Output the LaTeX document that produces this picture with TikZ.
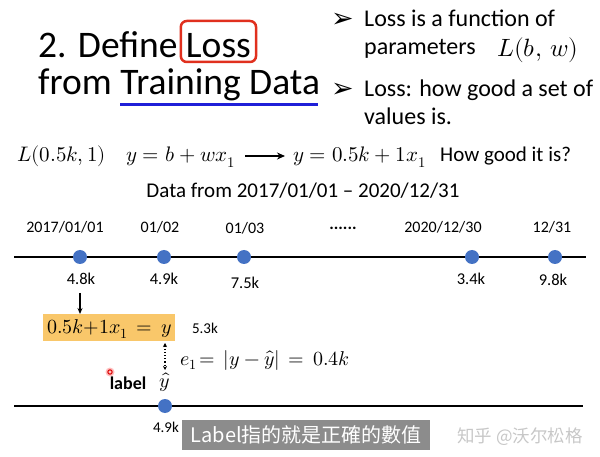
\documentclass[tikz,border=0pt]{standalone}
\usepackage{amsmath}
\usepackage{fontspec}
\usepackage{unicode-math}
\setmainfont{Carlito}
\setmathfont{Latin Modern Math}
\newfontfamily\dejavu{DejaVu Sans}
\newfontfamily\cjk{Noto Sans CJK TC}
\usetikzlibrary{arrows.meta}
\definecolor{dotblue}{HTML}{4472C4}
\definecolor{boxorange}{HTML}{F9C76A}
\definecolor{redbox}{HTML}{E0301E}
\definecolor{ulblue}{HTML}{1F1FD8}
\newcommand{\fs}[1]{\fontsize{#1}{#1}\selectfont}
\begin{document}
\begin{tikzpicture}[x=1pt,y=-1pt,
  txt/.style={inner sep=0pt, anchor=base},
  dot/.style={circle, fill=dotblue, minimum size=14pt, inner sep=0pt},
  tline/.style={line width=2.6pt},
  datelab/.style={txt, font=\fs{16}},
  vallab/.style={txt, font=\fs{16.5}},
  bullet/.style={txt, anchor=base west, font=\fs{24}},
  arrbul/.style={txt, anchor=base west, font=\dejavu\fs{27}},
]
\useasboundingbox (0,0) rectangle (600,457);
% title
\node[txt, anchor=base west, font=\fs{37.5}] (t1) at (38,58) {2. Define};
\node[txt, anchor=base west, font=\fs{37.5}] (loss) at ([xshift=8pt]t1.base east) {Loss};
\draw[redbox, line width=2.5pt, rounded corners=6pt] ([xshift=-5pt,yshift=-4pt]loss.base west) rectangle ([xshift=5pt,yshift=37pt]loss.base east);
\node[txt, anchor=base west, font=\fs{37.5}] (t2) at (38,95) {from Training Data};
\draw[ulblue, line width=3pt] (120,105) -- (318,105);
% bullets
\node[arrbul] (a1) at (331,28) {➢};
\node[bullet] (b1) at (364,27) {Loss is a function of};
\node[bullet] (b2) at (364,55) {parameters};
\node[txt, anchor=base west, font=\fs{25}] (lbw) at (497,57) {$L(b,\,w)$};
\node[arrbul] (a2) at (331,98) {➢};
\node[bullet] (b3) at (364,97) {Loss: how good a set of};
\node[bullet] (b4) at (364,125) {values is.};
% equations row
\node[txt, anchor=base west, font=\fs{21}] (l05) at (17,162) {$L(0.5k,1)$};
\node[txt, anchor=base west, font=\fs{21}] (eq1) at (126,162) {$y=b+wx_1$};
\node[txt, anchor=base west, font=\fs{21}] (eq2) at (293,162) {$y=0.5k+1x_1$};
\draw[-{Stealth[length=8pt,width=7pt]}, line width=1.3pt] ([xshift=10pt,yshift=6pt]eq1.base east) coordinate (ea) -- ([xshift=-8pt,yshift=6pt]eq2.base west) coordinate (eb);
\node[txt, anchor=base west, font=\fs{21}] (how) at (440,162) {How good it is?};
\node[txt, font=\fs{21}] (data) at (303,198) {Data from 2017/01/01 – 2020/12/31};
% timeline 1
\draw[tline] (14,257) coordinate (L1a) -- (586,257) coordinate (L1b);
\node[dot] (d1) at (80,257) {};
\node[dot] (d2) at (164,257) {};
\node[dot] (d3) at (244,257) {};
\node[dot] (d4) at (472,257) {};
\node[dot] (d5) at (555,257) {};
\node[datelab] at (65,233) {2017/01/01};
\node[datelab] at (160,233) {01/02};
\node[datelab] at (245,234) {01/03};
\node[datelab, font=\fs{17}\bfseries] at (343,230) {......};
\node[datelab] at (443,233) {2020/12/30};
\node[datelab] at (552,233) {12/31};
\node[vallab] (v1) at (81,285) {4.8k};
\node[vallab] at (164,285) {4.9k};
\node[vallab] at (245,288) {7.5k};
\node[vallab] at (471,285) {3.4k};
\node[vallab] at (553,286) {9.8k};
% orange box
\node[fill=boxorange, inner sep=0pt, minimum width=132pt, minimum height=27pt, anchor=north west] (ob) at (43,314) {};
\node[txt, anchor=base west, font=\fs{20}] (obt) at (47,334) {$0.5k{+}1x_1\,=\,y$};
\coordinate (arrtop) at (80,293);
\draw[-{Stealth[length=6pt,width=5pt]}, line width=1.4pt] (arrtop) -- (arrtop |- ob.north);
\node[txt, font=\fs{15}] (v53) at (205,333) {5.3k};
% error
\coordinate (e1a) at (165,343);
\coordinate (e1b) at (165,370);
\draw[{Stealth[length=4pt,width=4pt]}-{Stealth[length=4pt,width=4pt]}, line width=1.2pt, dotted] (e1a) -- (e1b);
\node[txt, anchor=base west, font=\fs{20}] (err) at (180,365) {$e_1\!=\,|y-\hat{y}|\,=\,0.4k$};
\node[txt, font=\fs{18}\bfseries] (lab) at (128,389) {label};
\node[txt, font=\fs{20}] (yhat) at (165,387) {$\hat{y}$};
\fill[red!25] (110,372) circle (4.5pt);
\draw[red!85!black, line width=1pt] (110,372) circle (2.2pt);
% timeline 2
\draw[tline] (14,406) -- (583,406);
\node[dot] (d6) at (165,406) {};
\node[vallab, font=\fs{15}] (v49) at (166,432) {4.9k};
% caption
\node[fill=black!45, text=white, font=\cjk\fs{20}, inner sep=0pt, minimum width=248pt, minimum height=30pt, anchor=north west] (cap) at (182,420) {Label指的就是正確的數值};
\node[txt, text=black!22, font=\cjk\fs{17.5}] (wm) at (520,442) {知乎 @沃尔松格};
\end{tikzpicture}
\end{document}
